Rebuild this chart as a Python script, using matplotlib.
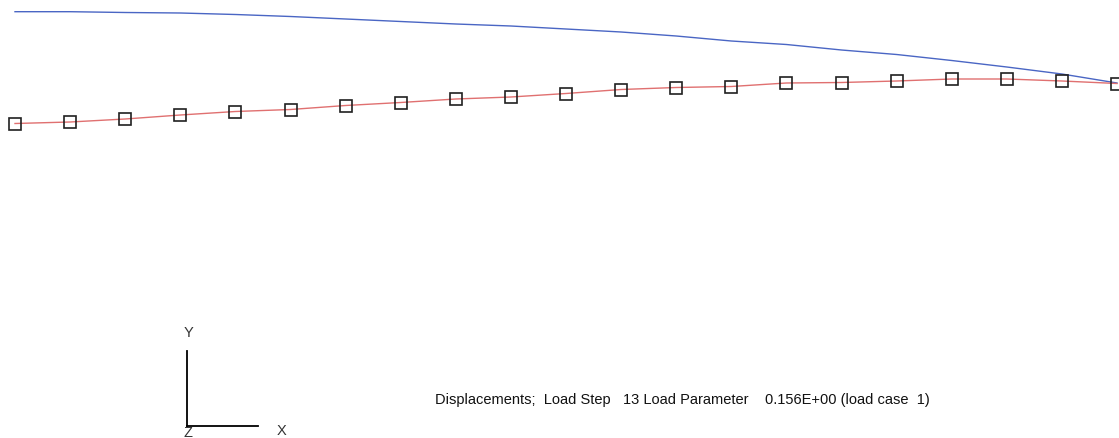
import numpy as np
import matplotlib.pyplot as plt

plt.rcParams['font.family'] = ['Liberation Sans', 'DejaVu Sans']

# node numbers along the beam
nodes = np.arange(21)

# undeformed / reference shape (blue) and deformed shape (red), screen units
blue_y = [12.7, 12.7, 13.5, 14.0, 15.5, 17.5, 20.0, 22.5, 25.0, 27.0, 30.0,
          33.0, 37.0, 42.0, 45.5, 51.0, 55.5, 61.5, 68.0, 75.0, 84.0]
red_y = [124.5, 123.0, 120.0, 116.0, 112.5, 110.5, 106.5, 103.5, 100.0, 98.0, 94.5,
         90.5, 88.5, 87.5, 84.0, 83.5, 82.0, 80.0, 80.0, 82.0, 84.5]

caption = 'Displacements;  Load Step   13 Load Parameter    0.156E+00 (load case  1)'

W, H = 1119, 439
fig = plt.figure(figsize=(W / 100, H / 100), dpi=100)
ax = fig.add_axes([0, 0, 1, 1])
px = 55.1  # pixels per node
ax.set_xlim(-15 / px, (W - 15) / px)
ax.set_ylim(H, 0)
ax.axis('off')

ax.plot(nodes, blue_y, color='#4a66c4', lw=1.0)
ax.plot(nodes, red_y, color='#e07070', lw=1.0)
ax.plot(nodes, red_y, ls='none', marker='s', ms=8.6, mfc='none',
        mec='#202020', mew=1.2)

# coordinate triad drawn in figure pixels
tr = fig.transFigure
ox, oy = 187 / W, 1 - 427 / H
fig.add_artist(plt.Line2D([ox, ox], [oy, 1 - 352 / H], color='black', lw=1.3, transform=tr))
fig.add_artist(plt.Line2D([ox, 258 / W], [oy, oy], color='black', lw=1.3, transform=tr))
fig.text(188 / W, 1 - 333 / H, 'Y', ha='center', va='center', fontsize=10.5, color='#333333')
fig.text(282 / W, 1 - 431 / H, 'X', ha='center', va='center', fontsize=10.5, color='#333333')
fig.text(188 / W, 1 - 433 / H, 'Z', ha='center', va='center', fontsize=10.5, color='#333333')

fig.text(682 / W, 1 - 400 / H, caption, ha='center', va='center', fontsize=10.5, color='#111111')

fig.savefig('out.png', dpi=100)
